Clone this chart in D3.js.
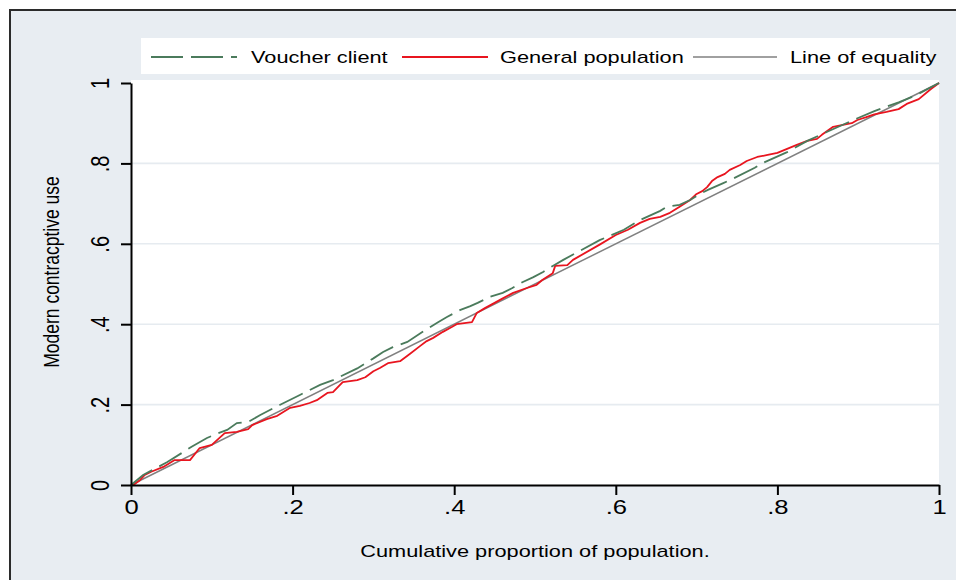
<!DOCTYPE html>
<html>
<head>
<meta charset="utf-8">
<script src="https://cdn.jsdelivr.net/npm/d3@7"></script>
<style>
  html, body { margin: 0; padding: 0; background: #ffffff; }
  svg { display: block; }
  text { font-family: "Liberation Sans", Arial, Helvetica, sans-serif; fill: #000; }
</style>
</head>
<body>
<svg id="chart" width="956" height="580"></svg>
<script>
// ---- Data ----
const genPopX = [0, 0.005, 0.011, 0.017, 0.025, 0.040, 0.054, 0.073, 0.085, 0.100, 0.116, 0.131, 0.145, 0.150, 0.168, 0.181, 0.197, 0.209, 0.221, 0.230, 0.243, 0.250, 0.262, 0.280, 0.290, 0.300, 0.308, 0.318, 0.333, 0.345, 0.358, 0.366, 0.374, 0.386, 0.397, 0.403, 0.422, 0.428, 0.438, 0.450, 0.459, 0.473, 0.490, 0.502, 0.509, 0.522, 0.525, 0.540, 0.547, 0.580, 0.600, 0.615, 0.630, 0.642, 0.655, 0.667, 0.679, 0.692, 0.700, 0.707, 0.713, 0.719, 0.726, 0.735, 0.741, 0.754, 0.762, 0.775, 0.788, 0.800, 0.812, 0.824, 0.837, 0.849, 0.855, 0.869, 0.881, 0.892, 0.899, 0.910, 0.920, 0.935, 0.950, 0.960, 0.975, 0.990, 1];
const genPopY = [0, 0.003, 0.012, 0.025, 0.033, 0.045, 0.062, 0.062, 0.092, 0.100, 0.129, 0.132, 0.139, 0.149, 0.164, 0.172, 0.192, 0.197, 0.204, 0.211, 0.229, 0.231, 0.256, 0.261, 0.268, 0.283, 0.291, 0.303, 0.308, 0.326, 0.346, 0.358, 0.366, 0.381, 0.393, 0.400, 0.405, 0.428, 0.440, 0.453, 0.463, 0.478, 0.490, 0.498, 0.510, 0.527, 0.545, 0.547, 0.560, 0.598, 0.622, 0.635, 0.652, 0.662, 0.667, 0.677, 0.692, 0.709, 0.724, 0.731, 0.741, 0.756, 0.766, 0.774, 0.784, 0.796, 0.806, 0.816, 0.821, 0.826, 0.836, 0.846, 0.856, 0.861, 0.871, 0.891, 0.896, 0.900, 0.908, 0.915, 0.922, 0.928, 0.935, 0.948, 0.960, 0.985, 1];

const voucherX = [0, 0.015, 0.045, 0.075, 0.094, 0.108, 0.119, 0.131, 0.145, 0.160, 0.184, 0.209, 0.234, 0.250, 0.280, 0.300, 0.312, 0.324, 0.342, 0.361, 0.380, 0.391, 0.407, 0.420, 0.429, 0.444, 0.460, 0.472, 0.485, 0.498, 0.510, 0.522, 0.535, 0.580, 0.610, 0.630, 0.655, 0.663, 0.679, 0.692, 0.704, 0.714, 0.733, 0.744, 0.772, 0.782, 0.812, 0.837, 0.861, 0.894, 0.920, 0.950, 0.970, 1];
const voucherY = [0, 0.025, 0.057, 0.095, 0.117, 0.129, 0.137, 0.154, 0.157, 0.174, 0.199, 0.224, 0.249, 0.261, 0.290, 0.315, 0.331, 0.343, 0.356, 0.381, 0.405, 0.418, 0.435, 0.445, 0.453, 0.468, 0.478, 0.490, 0.505, 0.517, 0.530, 0.545, 0.560, 0.609, 0.635, 0.659, 0.682, 0.692, 0.697, 0.709, 0.724, 0.734, 0.751, 0.761, 0.789, 0.801, 0.828, 0.856, 0.878, 0.908, 0.930, 0.952, 0.968, 1];

const equalityX = [0, 1];
const equalityY = [0, 1];

const tickValues = [0, 0.2, 0.4, 0.6, 0.8, 1];
const tickLabels = ["0", ".2", ".4", ".6", ".8", "1"];

const seriesNames = ["Voucher client", "General population", "Line of equality"];
const seriesColors = ["#4b7b5c", "#e8151f", "#808080"];

// ---- Layout ----
const SX = 1.28; // horizontal text stretch seen in the reference
const svg = d3.select("#chart");
const x = d3.scaleLinear().domain([0, 1]).range([131, 939]);
const y = d3.scaleLinear().domain([0, 1]).range([485, 83]);

// outer background and frame
svg.append("rect").attr("x", 10).attr("y", 10).attr("width", 960).attr("height", 580).attr("fill", "#e8edf2");
svg.append("line").attr("x1", 10).attr("x2", 10).attr("y1", 9).attr("y2", 580).attr("stroke", "#2b2b2b").attr("stroke-width", 2);
svg.append("line").attr("x1", 9).attr("x2", 956).attr("y1", 10).attr("y2", 10).attr("stroke", "#2b2b2b").attr("stroke-width", 2);

// plot region
svg.append("rect").attr("x", x(0)).attr("y", y(1) - 3).attr("width", x(1) - x(0)).attr("height", y(0) - y(1) + 3).attr("fill", "#ffffff");

// gridlines
svg.append("g").selectAll("line").data(tickValues.filter(v => v > 0 && v < 1)).join("line")
  .attr("x1", x(0)).attr("x2", x(1)).attr("y1", d => y(d)).attr("y2", d => y(d))
  .attr("stroke", "#e6ebf0").attr("stroke-width", 1.6);

// lines
const line = d3.line().x(d => x(d[0])).y(d => y(d[1]));
const zip = (a, b) => a.map((v, i) => [v, b[i]]);

svg.append("path").datum(zip(equalityX, equalityY)).attr("d", line)
  .attr("fill", "none").attr("stroke", seriesColors[2]).attr("stroke-width", 1.5);
svg.append("path").datum(zip(genPopX, genPopY)).attr("d", line)
  .attr("fill", "none").attr("stroke", seriesColors[1]).attr("stroke-width", 1.8).attr("stroke-linejoin", "round");
svg.append("path").datum(zip(voucherX, voucherY)).attr("d", line)
  .attr("fill", "none").attr("stroke", seriesColors[0]).attr("stroke-width", 1.8).attr("stroke-dasharray", "26,8");

// axes
const fmt = d => tickLabels[tickValues.indexOf(d)];
const yAxis = svg.append("g").attr("transform", `translate(${x(0)},0)`)
  .call(d3.axisLeft(y).tickValues(tickValues).tickFormat(fmt).tickSize(10).tickSizeOuter(0));
const xAxis = svg.append("g").attr("transform", `translate(0,${y(0)})`)
  .call(d3.axisBottom(x).tickValues(tickValues).tickFormat(fmt).tickSize(10).tickSizeOuter(0));

[yAxis, xAxis].forEach(g => {
  g.select(".domain").attr("stroke", "#000").attr("stroke-width", 2);
  g.selectAll(".tick line").attr("stroke", "#000").attr("stroke-width", 2);
});
yAxis.selectAll(".tick text")
  .attr("x", null).attr("dy", null)
  .attr("text-anchor", "middle")
  .attr("font-size", 20)
  .attr("font-family", "Liberation Sans, Arial, sans-serif")
  .attr("transform", `translate(${-31},0) scale(${SX},1) rotate(-90) translate(0,7)`);
xAxis.selectAll(".tick text")
  .attr("y", null).attr("dy", null)
  .attr("text-anchor", "middle")
  .attr("font-size", 20)
  .attr("font-family", "Liberation Sans, Arial, sans-serif")
  .attr("transform", `translate(0,29) scale(${SX},1)`);

// axis titles
svg.append("text").attr("text-anchor", "middle").attr("font-size", 17.5)
  .attr("transform", `translate(59,272) scale(${SX},1) rotate(-90)`)
  .text("Modern contracptive use");
svg.append("text").attr("text-anchor", "middle").attr("font-size", 17)
  .attr("transform", `translate(535,557) scale(${SX},1)`)
  .text("Cumulative proportion of population.");

// legend
svg.append("rect").attr("x", 141).attr("y", 38).attr("width", 789).attr("height", 36).attr("fill", "#ffffff");
const legendItems = [
  { x1: 151, x2: 237, tx: 251, dash: "32,8" },
  { x1: 402, x2: 488, tx: 500, dash: null },
  { x1: 693, x2: 777, tx: 790, dash: null }
];
const lg = svg.append("g").selectAll("g").data(legendItems).join("g");
lg.append("line").attr("x1", d => d.x1).attr("x2", d => d.x2).attr("y1", 57).attr("y2", 57)
  .attr("stroke", (d, i) => seriesColors[i]).attr("stroke-width", (d, i) => i === 2 ? 1.6 : 2)
  .attr("stroke-dasharray", d => d.dash);
lg.append("text").attr("font-size", 17)
  .attr("transform", d => `translate(${d.tx},63) scale(${SX},1)`)
  .text((d, i) => seriesNames[i]);
</script>
</body>
</html>
